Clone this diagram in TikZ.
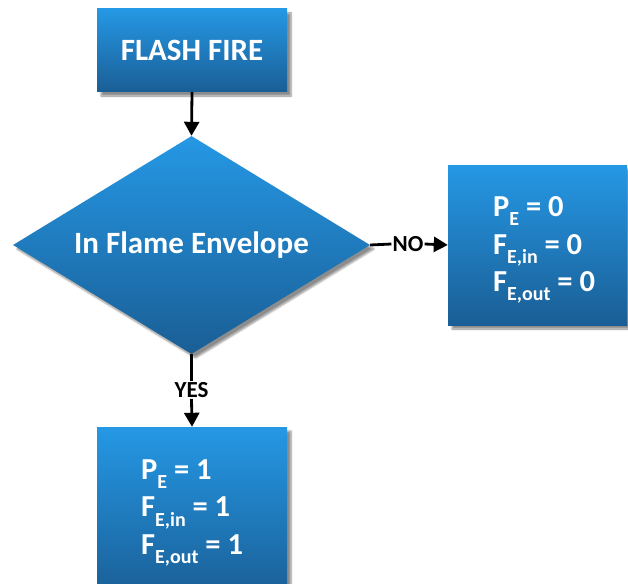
\documentclass[tikz,border=0pt]{standalone}
\usepackage{fontspec}
\setmainfont{Carlito}
\usetikzlibrary{shapes.geometric,shadows.blur,arrows.meta}
\definecolor{btop}{HTML}{2598E5}
\definecolor{bbot}{HTML}{1A5E95}
\newcommand{\sbx}[1]{\raisebox{-0.30em}{\fontsize{20}{20}\selectfont #1}}
\tikzset{
  bluefill/.style={draw=none, top color=btop, bottom color=bbot, text=white,
    inner sep=0pt,
    blur shadow={shadow xshift=4pt, shadow yshift=-4pt, shadow blur steps=6, shadow opacity=45}},
  bluebox/.style={bluefill, rectangle},
  bigtext/.style={font=\bfseries\fontsize{31}{37}\selectfont},
  eqtext/.style={font=\bfseries\fontsize{30.5}{37.5}\selectfont, align=left, inner sep=0pt},
  conn/.style={line width=2.8pt, -{Triangle[length=14pt,width=15pt]}},
  plain/.style={line width=2.8pt},
  lab/.style={font=\bfseries\fontsize{23}{23}\selectfont, inner sep=1pt, text=black}
}
\begin{document}
\begin{tikzpicture}[x=1pt,y=-1pt]
\useasboundingbox (0,0) rectangle (628,583);
\node[bluebox, bigtext, minimum width=190pt, minimum height=83pt] (fire) at (192,50.5) {FLASH FIRE};
\node[bluefill, diamond, aspect=1.645, minimum width=357pt, minimum height=218pt, bigtext] (dia) at (191.5,245) {In Flame Envelope};
\node[bluebox, minimum width=179pt, minimum height=160pt] (nobox) at (537.5,245) {};
\node[eqtext, text=white, anchor=west] (notext) at (493,250) {P\sbx{E} = 0\\F\sbx{E,in} = 0\\F\sbx{E,out} = 0};
\node[bluebox, minimum width=190pt, minimum height=172pt] (yesbox) at (192,513) {};
\node[eqtext, text=white, anchor=west] (yestext) at (141,513) {P\sbx{E} = 1\\F\sbx{E,in} = 1\\F\sbx{E,out} = 1};
\draw[conn] (fire.south) -- (dia.north);
\node[lab] (no) at (408,244) {NO};
\draw[plain] (dia.east) -- (no.west);
\draw[conn] (no.east) -- (nobox.west);
\node[lab] (yes) at (191.5,390) {YES};
\draw[plain] (dia.south) -- (yes.north);
\draw[conn] (yes.south) -- (yesbox.north);
\end{tikzpicture}
\end{document}
